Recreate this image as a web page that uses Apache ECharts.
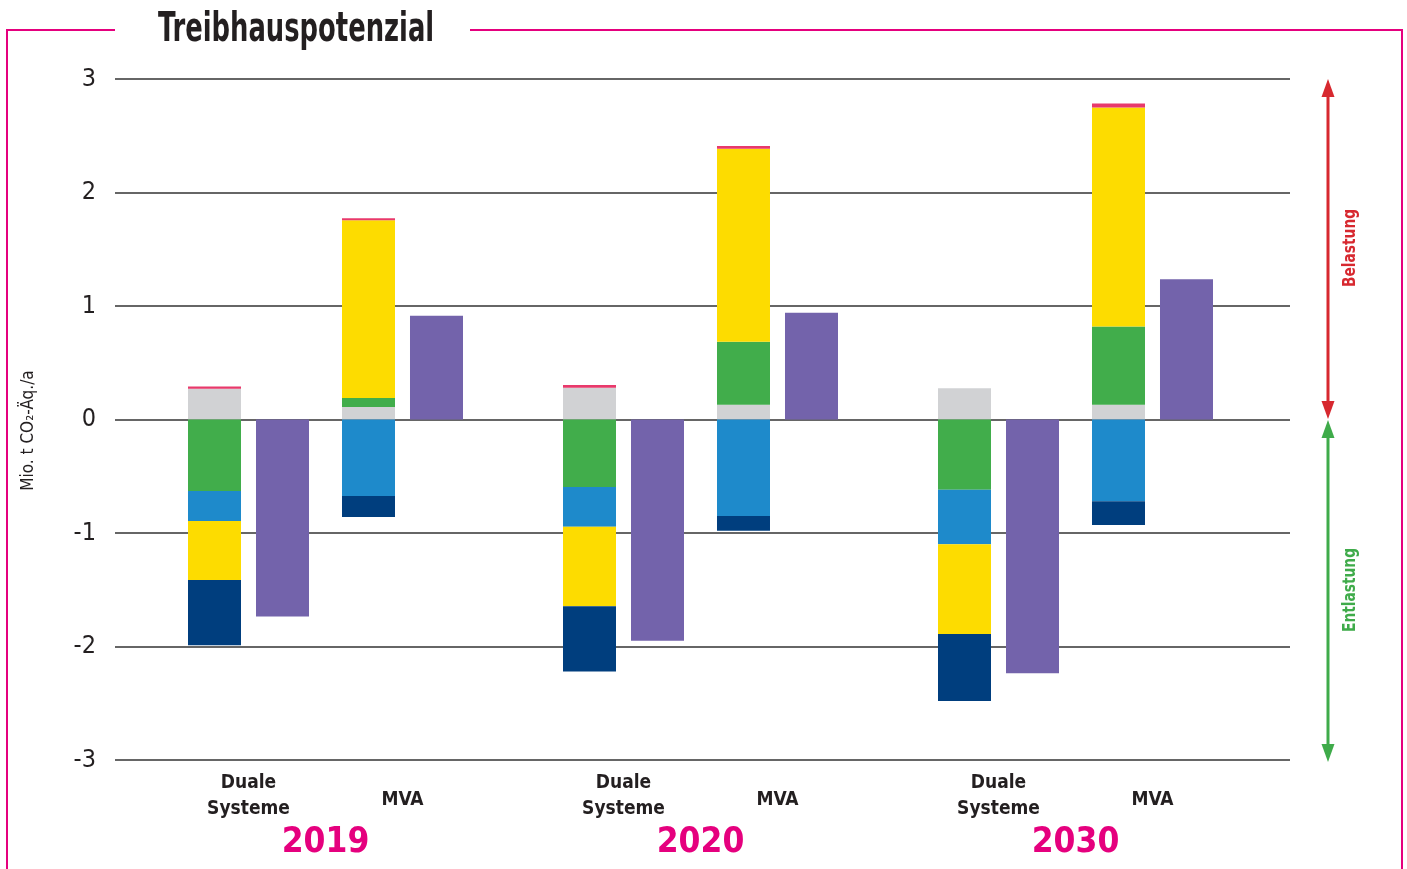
<!DOCTYPE html>
<html>
<head>
<meta charset="utf-8">
<script src="https://cdn.jsdelivr.net/npm/echarts@6/dist/echarts.min.js"></script>
<style>
html,body{margin:0;padding:0;background:#fff;}
#chart{width:1407px;height:869px;}
</style>
</head>
<body>
<div id="chart"></div>
<script>
// ---- data ----
const years = ['2019', '2020', '2030'];
const groupLabels = ['Duale\nSysteme', 'MVA'];
const yTicks = [-3, -2, -1, 0, 1, 2, 3];

// Duale Systeme components (Mio. t CO2-Äq./a)
const dsGrey   = [0.27, 0.28, 0.275];
const dsPink   = [0.02, 0.025, null];
const dsGreen  = [-0.63, -0.595, -0.62];
const dsBlue   = [-0.265, -0.35, -0.48];
const dsYellow = [-0.52, -0.70, -0.79];
const dsNavy   = [-0.575, -0.575, -0.59];
const dsNet    = [-1.735, -1.95, -2.235];

// MVA components
const mvaGrey   = [0.11, 0.13, 0.13];
const mvaGreen  = [0.08, 0.555, 0.69];
const mvaYellow = [1.565, 1.70, 1.93];
const mvaPink   = [0.018, 0.025, 0.035];
const mvaBlue   = [-0.675, -0.85, -0.72];
const mvaNavy   = [-0.185, -0.13, -0.21];
const mvaNet    = [0.915, 0.94, 1.235];

// ---- styling ----
const F = "'Liberation Sans Narrow','DejaVu Sans Condensed','Roboto Condensed','Arial Narrow',sans-serif";
const C = {
  grey: '#d1d2d4', pink: '#e8396b', green: '#41ad4b', blue: '#1e8acb',
  yellow: '#fddc00', navy: '#003e7e', purple: '#7363ab',
  magenta: '#e5007e', text: '#231f20', red: '#d7282f', arrowGreen: '#3fab4a'
};
const BAR_W = 53;
const GAP = '28.3%';

function bar(name, data, stack, color, width) {
  return {
    type: 'bar', name, data, stack,
    xAxisIndex: 1, yAxisIndex: 1,
    barWidth: width || BAR_W, barGap: GAP,
    itemStyle: { color },
    silent: true
  };
}

const series = [
  bar('DS Grey', dsGrey, 'ds', C.grey),
  bar('DS Pink', dsPink, 'ds', C.pink),
  bar('DS Green', dsGreen, 'ds', C.green),
  bar('DS Blue', dsBlue, 'ds', C.blue),
  bar('DS Yellow', dsYellow, 'ds', C.yellow),
  bar('DS Navy', dsNavy, 'ds', C.navy),
  bar('DS Net', dsNet, 'dsNet', C.purple),
  bar('spacer', [null, null, null], 'spacer', 'rgba(0,0,0,0)', 14.03),
  bar('MVA Grey', mvaGrey, 'mva', C.grey),
  bar('MVA Green', mvaGreen, 'mva', C.green),
  bar('MVA Yellow', mvaYellow, 'mva', C.yellow),
  bar('MVA Pink', mvaPink, 'mva', C.pink),
  bar('MVA Blue', mvaBlue, 'mva', C.blue),
  bar('MVA Navy', mvaNavy, 'mva', C.navy),
  bar('MVA Net', mvaNet, 'mvaNet', C.purple)
];

const hiddenAxisParts = {
  axisLine: { show: false, onZero: false },
  axisTick: { show: false },
  splitLine: { show: false }
};

const option = {
  animation: false,
  backgroundColor: '#fff',
  grid: [
    { left: 115, top: 79, width: 1175, height: 681 },
    { left: 138, top: 79, width: 1125, height: 681 }
  ],
  xAxis: [
    { gridIndex: 0, type: 'category', data: years, show: false },
    Object.assign({
      gridIndex: 1, type: 'category', data: years, position: 'bottom',
      axisLabel: {
        interval: 0, formatter: () => groupLabels[0],
        padding: [0, 154, 0, 0], margin: 10,
        fontSize: 19, lineHeight: 26, fontWeight: 'bold', color: C.text, fontFamily: F
      }
    }, hiddenAxisParts),
    Object.assign({
      gridIndex: 1, type: 'category', data: years, position: 'bottom',
      axisLabel: {
        interval: 0, formatter: () => groupLabels[1],
        padding: [0, 0, 0, 154], margin: 27,
        fontSize: 19, lineHeight: 26, fontWeight: 'bold', color: C.text, fontFamily: F
      }
    }, hiddenAxisParts),
    Object.assign({
      gridIndex: 1, type: 'category', data: years, position: 'bottom',
      axisLabel: {
        interval: 0, margin: 65,
        fontSize: 35, fontWeight: 'bold', color: C.magenta, fontFamily: F
      }
    }, hiddenAxisParts)
  ],
  yAxis: [
    {
      gridIndex: 0, type: 'value', min: yTicks[0], max: yTicks[yTicks.length - 1], interval: 1,
      axisLine: { show: false }, axisTick: { show: false },
      splitLine: { lineStyle: { color: '#333', width: 1.6 } },
      axisLabel: { fontSize: 25, margin: 19, color: C.text, fontFamily: F },
      name: 'Mio. t CO₂-Äq./a', nameLocation: 'middle', nameRotate: 90, nameGap: 78,
      nameTextStyle: { fontSize: 17, color: C.text, fontFamily: F, padding: [0, 22, 0, 0] }
    },
    {
      gridIndex: 1, type: 'value', min: yTicks[0], max: yTicks[yTicks.length - 1], interval: 1,
      show: false, splitLine: { show: false }
    }
  ],
  graphic: [
    { type: 'polyline', silent: true, shape: { points: [[115, 30], [7, 30], [7, 869]] },
      style: { stroke: C.magenta, lineWidth: 2, fill: null } },
    { type: 'polyline', silent: true, shape: { points: [[470, 30], [1402, 30], [1402, 869]] },
      style: { stroke: C.magenta, lineWidth: 2, fill: null } },
    { type: 'text', silent: true, x: 158, y: 30, scaleX: 0.70,
      style: { text: 'Treibhauspotenzial', fill: C.text, font: 'bold 41px ' + F, align: 'left', verticalAlign: 'middle' } },
    // Belastung arrow
    { type: 'line', silent: true, shape: { x1: 1328, y1: 95, x2: 1328, y2: 403 },
      style: { stroke: C.red, lineWidth: 3 } },
    { type: 'polygon', silent: true, shape: { points: [[1328, 79], [1321.5, 97], [1334.5, 97]] }, style: { fill: C.red } },
    { type: 'polygon', silent: true, shape: { points: [[1328, 419], [1321.5, 401], [1334.5, 401]] }, style: { fill: C.red } },
    // Entlastung arrow
    { type: 'line', silent: true, shape: { x1: 1328, y1: 436, x2: 1328, y2: 745 },
      style: { stroke: C.arrowGreen, lineWidth: 3 } },
    { type: 'polygon', silent: true, shape: { points: [[1328, 420], [1321.5, 438], [1334.5, 438]] }, style: { fill: C.arrowGreen } },
    { type: 'polygon', silent: true, shape: { points: [[1328, 762], [1321.5, 744], [1334.5, 744]] }, style: { fill: C.arrowGreen } },
    { type: 'text', silent: true, x: 1350, y: 248, rotation: Math.PI / 2, scaleX: 0.85,
      style: { text: 'Belastung', fill: C.red, font: 'bold 18px ' + F, align: 'center', verticalAlign: 'middle' } },
    { type: 'text', silent: true, x: 1350, y: 590, rotation: Math.PI / 2, scaleX: 0.85,
      style: { text: 'Entlastung', fill: C.arrowGreen, font: 'bold 18px ' + F, align: 'center', verticalAlign: 'middle' } }
  ],
  series
};

const chart = echarts.init(document.getElementById('chart'), null, { renderer: 'canvas' });
chart.setOption(option);
</script>
</body>
</html>
